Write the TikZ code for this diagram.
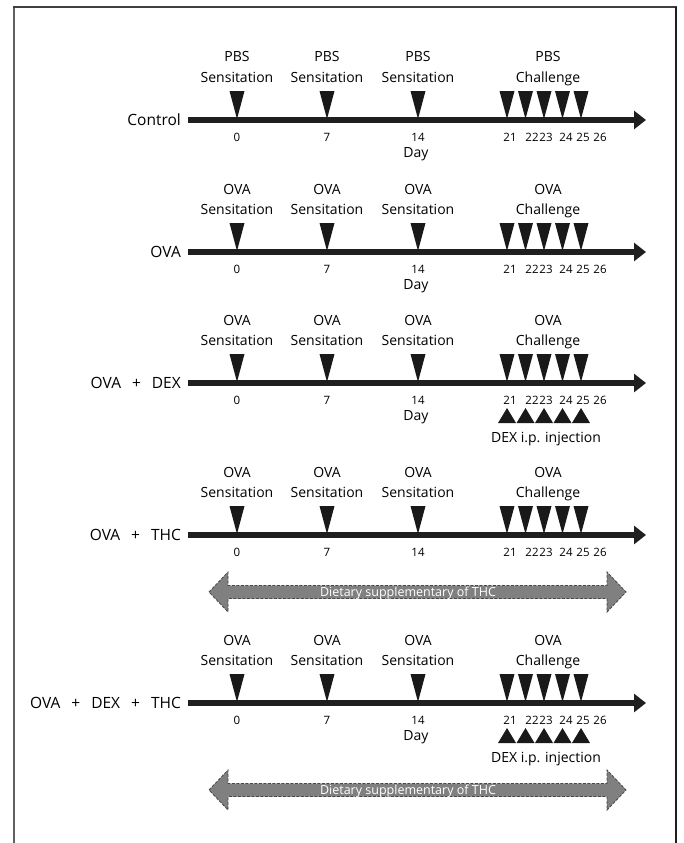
\documentclass[tikz,border=0pt]{standalone}
\usepackage{fontspec}
\setmainfont{Open Sans}
\usetikzlibrary{arrows.meta}
\newcommand\lsp{\hspace{11pt}}
\begin{document}
\begin{tikzpicture}[x=1pt,y=-1pt,
  lbl/.style={font=\fontsize{14}{17}\selectfont, inner sep=0pt, anchor=base},
  rowlbl/.style={font=\fontsize{15.5}{18}\selectfont, inner sep=0pt, anchor=base east},
  num/.style={font=\fontsize{11.5}{13}\selectfont, inner sep=0pt, anchor=base},
  axisline/.style={line width=6pt, draw=black!88, -{Triangle[length=12pt,width=18pt]}},
  tri/.style={fill=black!90},
  thcarrow/.style={fill=black!50, draw=black!72, line width=0.8pt, dash pattern=on 3pt off 1.5pt},
  thctext/.style={font=\fontsize{12.5}{14}\selectfont, text=white, inner sep=0pt, anchor=base},
  frame/.style={line width=2pt},
]
\path[use as bounding box] (0,0) rectangle (683,843);
\draw[frame, draw=black!62] (14,850) -- (14,7);
\draw[frame, draw=black!75] (13,7) -- (677,7);
\draw[frame, draw=black!88] (676,7) -- (676,850);

\foreach \r/\y/\lab/\pre/\day/\dex in {1/120/Control/PBS/1/0, 2/252/OVA/OVA/1/0, 3/383/{OVA\lsp+\lsp DEX}/OVA/1/1, 4/535/{OVA\lsp+\lsp THC}/OVA/0/0, 5/703/{OVA\lsp+\lsp DEX\lsp+\lsp THC}/OVA/1/1}{
  % row label and axis
  \node[rowlbl] (lab\r) at (181,\y+5.5) {\lab};
  \coordinate (s\r) at (188,\y);
  \coordinate (e\r) at (646,\y);
  \draw[axisline] (s\r) -- (e\r);
  % sensitation headers and triangles
  \foreach \i/\x/\n in {1/237/0, 2/327/7, 3/418/14}{
    \node[lbl] (ha\r\i) at (\x,\y-58) {\pre};
    \node[lbl] (hb\r\i) at (\x,\y-38) {Sensitation};
    \fill[tri] ({\x-7.5},{\y-29}) -- ({\x+7.5},{\y-29}) -- (\x,{\y-1}) -- cycle;
    \node[num] (n\r\i) at (\x,\y+21.5) {\n};
  }
  % challenge header and triangles
  \node[lbl] (ca\r) at (548,\y-58) {\pre};
  \node[lbl] (cb\r) at (548,\y-38) {Challenge};
  \foreach \x in {507,525.5,544,562.5,581}{
    \fill[tri] ({\x-7.5},{\y-29}) -- ({\x+7.5},{\y-29}) -- (\x,{\y-1}) -- cycle;
  }
  \foreach \j/\x/\n in {1/510/21, 2/532/22, 3/546/23, 4/566/24, 5/583/25, 6/600/26}{
    \node[num] (m\r\j) at (\x,\y+21.5) {\n};
  }
  \ifnum\day=1
    \node[lbl] (day\r) at (416,\y+37) {Day};
  \fi
  \ifnum\dex=1
    \foreach \x in {507,525.5,544,562.5,581}{
      \fill[tri] ({\x-9},{\y+40}) -- ({\x+9},{\y+40}) -- (\x,{\y+25}) -- cycle;
    }
    \node[lbl] (dex\r) at (546,\y+59) {DEX i.p. injection};
  \fi
}

% THC dietary arrows
\foreach \k/\y in {1/592, 2/790}{
  \draw[thcarrow] (209,\y) -- (228,{\y-20}) -- (228,{\y-6.5}) -- (607,{\y-6.5}) -- (607,{\y-20})
     -- (626,\y) -- (607,{\y+20}) -- (607,{\y+6.5}) -- (228,{\y+6.5}) -- (228,{\y+20}) -- cycle;
  \node[thctext] (thc\k) at (408,\y+4.3) {Dietary supplementary of THC};
}
\end{tikzpicture}
\end{document}
